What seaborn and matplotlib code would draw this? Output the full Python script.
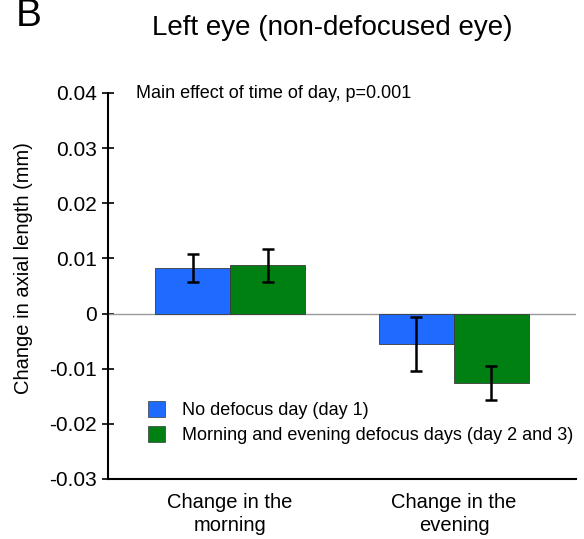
import matplotlib
matplotlib.use("Agg")
import matplotlib.pyplot as plt
import seaborn as sns
import pandas as pd
import numpy as np
from matplotlib.patches import Patch

# Axial length change per time of day and condition
periods = ["Change in the\nmorning", "Change in the\nevening"]
conditions = ["No defocus day (day 1)", "Morning and evening defocus days (day 2 and 3)"]
no_defocus_mean = [0.0083, -0.0056]
defocus_mean = [0.0088, -0.0126]
no_defocus_se = [0.0025, 0.0049]
defocus_se = [0.0030, 0.0031]
yticks = [0.04, 0.03, 0.02, 0.01, 0, -0.01, -0.02, -0.03]
ytick_labels = ["0.04", "0.03", "0.02", "0.01", "0", "-0.01", "-0.02", "-0.03"]

colors = ["#1f6bff", "#007f12"]

df = pd.DataFrame({
    "period": periods * 2,
    "condition": [conditions[0]] * 2 + [conditions[1]] * 2,
    "change": no_defocus_mean + defocus_mean,
    "se": no_defocus_se + defocus_se,
})

sns.set_style("white")
plt.rcParams["font.family"] = ["Liberation Sans", "DejaVu Sans"]
plt.rcParams["text.color"] = "black"
plt.rcParams["axes.labelcolor"] = "black"
plt.rcParams["xtick.color"] = "black"
plt.rcParams["ytick.color"] = "black"

W, H = 584, 539
fig = plt.figure(figsize=(W / 100, H / 100), dpi=100)
ax = fig.add_axes([108 / W, 1 - 479 / H, (576 - 108) / W, (479 - 93) / H])

sns.barplot(data=df, x="period", y="change", hue="condition", order=periods,
            hue_order=conditions, palette=colors, saturation=1, errorbar=None, width=0.67,
            edgecolor="#3a3a3a", linewidth=0.6, legend=False, ax=ax, zorder=2)

# Error bars centred on each bar
for cont, cond in zip(ax.containers, conditions):
    sub = df[df["condition"] == cond].set_index("period").loc[periods]
    xs = [p.get_x() + p.get_width() / 2 for p in cont.patches]
    ax.errorbar(xs, sub["change"].values, yerr=sub["se"].values, fmt="none",
                ecolor="black", elinewidth=1.8, capsize=4, capthick=1.8, zorder=3)

ax.axhline(0, color="#9a9a9a", linewidth=1.0, zorder=1)

ax.set_xlim(-0.545, 1.545)
ax.set_ylim(-0.03, 0.04)
ax.set_yticks(yticks)
ax.set_yticklabels(ytick_labels, fontsize=15)
ax.tick_params(axis="y", left=True, direction="inout", length=9, width=1.2,
               color="black", pad=3.5)
ax.tick_params(axis="x", bottom=False, length=0, labelsize=14.5, pad=10)
for lbl in ax.get_xticklabels():
    lbl.set_linespacing(1.3)
ax.set_xlabel("")
ax.set_ylabel("Change in axial length (mm)", fontsize=14.5)
ax.yaxis.set_label_coords(33 / W, 1 - 268 / H, transform=fig.transFigure)

for s in ["top", "right"]:
    ax.spines[s].set_visible(False)
for s in ["left", "bottom"]:
    ax.spines[s].set_color("black")
    ax.spines[s].set_linewidth(1.5)

ax.text(136 / W, 1 - 93 / H, "Main effect of time of day, p=0.001", transform=fig.transFigure,
        fontsize=13, va="center", ha="left")

fig.text(152 / W, 1 - 35 / H, "Left eye (non-defocused eye)", fontsize=20, ha="left", va="baseline")
fig.text(16 / W, 1 - 26 / H, "B", fontsize=28, ha="left", va="baseline")

handles = [Patch(facecolor=c, edgecolor="#3a3a3a", linewidth=0.5) for c in colors]
ax.legend(handles, conditions, loc="upper left", bbox_to_anchor=(148 / W, 1 - 401 / H),
          bbox_transform=fig.transFigure, frameon=False, fontsize=13,
          handlelength=0.95, handleheight=0.95, handletextpad=0.95, labelspacing=0.4,
          borderpad=0, borderaxespad=0)

fig.savefig("out.png", dpi=100)
